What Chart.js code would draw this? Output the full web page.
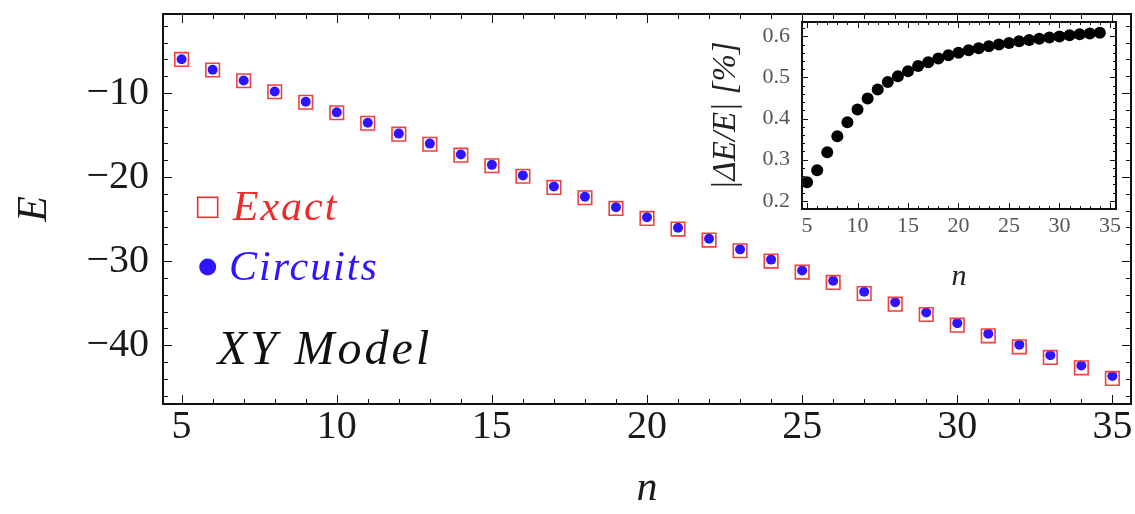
<!DOCTYPE html>
<html>
<head>
<meta charset="utf-8">
<script src="https://cdn.jsdelivr.net/npm/chart.js@4.4.1/dist/chart.umd.min.js"></script>
<style>
  html, body { margin: 0; padding: 0; background: #fff; }
  #wrap { position: relative; width: 1135px; height: 514px; }
  #mainChart { position: absolute; left: 0; top: 0; }
  #insetChart { position: absolute; left: 680px; top: 0; }
</style>
</head>
<body>
<div id="wrap">
  <canvas id="mainChart" width="1135" height="514"></canvas>
  <canvas id="insetChart" width="450" height="300"></canvas>
</div>
<script>
// main panel: ground state energy vs chain length
const sizes = [5, 6, 7, 8, 9, 10, 11, 12, 13, 14, 15, 16, 17, 18, 19, 20,
               21, 22, 23, 24, 25, 26, 27, 28, 29, 30, 31, 32, 33, 34, 35];
const exactE = [-6.0, -7.26, -8.54, -9.85, -11.1, -12.35, -13.6, -14.9, -16.1, -17.4,
                -18.65, -19.9, -21.23, -22.46, -23.73, -24.92, -26.19, -27.5, -28.77, -30.0,
                -31.31, -32.54, -33.85, -35.12, -36.35, -37.62, -38.89, -40.2, -41.46, -42.7, -43.96];
const circuitE = [-5.99, -7.24, -8.51, -9.81, -11.05, -12.3, -13.54, -14.83, -16.02, -17.31,
                  -18.55, -19.8, -21.12, -22.34, -23.6, -24.78, -26.04, -27.34, -28.6, -29.82,
                  -31.12, -32.34, -33.64, -34.9, -36.12, -37.38, -38.64, -39.94, -41.19, -42.42, -43.67];
const xTicks = [5, 10, 15, 20, 25, 30, 35];
const yTicks = [-40, -30, -20, -10];

// inset: relative error in percent
const insetN = [5, 6, 7, 8, 9, 10, 11, 12, 13, 14, 15, 16, 17, 18, 19, 20,
                21, 22, 23, 24, 25, 26, 27, 28, 29, 30, 31, 32, 33, 34];
const relErr = [0.245, 0.274, 0.318, 0.357, 0.391, 0.422, 0.449, 0.471, 0.489, 0.503,
                0.515, 0.528, 0.537, 0.546, 0.554, 0.56, 0.566, 0.571, 0.576, 0.58,
                0.584, 0.588, 0.591, 0.594, 0.597, 0.6, 0.603, 0.605, 0.607, 0.609];
const insetXTicks = [5, 10, 15, 20, 25, 30, 35];
const insetYTicks = [0.2, 0.3, 0.4, 0.5, 0.6];

const SERIF = "'Liberation Serif', 'DejaVu Serif', serif";

// frame with inward ticks on all four sides
const frameTicks = {
  id: 'frameTicks',
  afterDatasetsDraw(chart, args, o) {
    const { ctx, chartArea: a, scales: { x, y } } = chart;
    const near = (arr, v) => arr.some(m => Math.abs(m - v) < 1e-6);
    ctx.save();
    ctx.strokeStyle = '#111';
    ctx.lineWidth = 1;
    ctx.beginPath();
    const x0 = Math.ceil(x.min / o.xStep - 1e-9);
    for (let i = x0; i * o.xStep <= x.max + 1e-9; i++) {
      const v = +(i * o.xStep).toFixed(6);
      const len = near(o.xMajor, v) ? o.major : o.minor;
      const px = Math.round(x.getPixelForValue(v)) + 0.5;
      ctx.moveTo(px, a.bottom); ctx.lineTo(px, a.bottom - len);
      ctx.moveTo(px, a.top); ctx.lineTo(px, a.top + len);
    }
    const y0 = Math.ceil(y.min / o.yStep - 1e-9);
    for (let i = y0; i * o.yStep <= y.max + 1e-9; i++) {
      const v = +(i * o.yStep).toFixed(6);
      const len = near(o.yMajor, v) ? o.major : o.minor;
      const py = Math.round(y.getPixelForValue(v)) + 0.5;
      ctx.moveTo(a.left, py); ctx.lineTo(a.left + len, py);
      ctx.moveTo(a.right, py); ctx.lineTo(a.right - len, py);
    }
    ctx.stroke();
    ctx.lineWidth = o.frame;
    ctx.strokeRect(a.left, a.top, a.right - a.left, a.bottom - a.top);
    ctx.restore();
  }
};

// in-plot legend and model label, anchored in data coordinates
const notes = {
  id: 'notes',
  afterDraw(chart) {
    const { ctx, scales: { x, y } } = chart;
    ctx.save();
    ctx.textBaseline = 'alphabetic';
    // Exact
    let cx = x.getPixelForValue(5.84), cy = y.getPixelForValue(-23.6);
    ctx.strokeStyle = '#ee2a2a';
    ctx.lineWidth = 1.6;
    ctx.strokeRect(cx - 10, cy - 10, 20, 20);
    ctx.fillStyle = '#ee2a2a';
    ctx.font = 'italic 42px ' + SERIF;
    ctx.letterSpacing = '2px';
    ctx.fillText('Exact', x.getPixelForValue(6.65), cy + 13);
    // Circuits
    cy = y.getPixelForValue(-30.7);
    ctx.fillStyle = '#2f14ff';
    ctx.beginPath();
    ctx.arc(cx, cy, 8.5, 0, Math.PI * 2);
    ctx.fill();
    ctx.fillText('Circuits', x.getPixelForValue(6.53), cy + 13);
    // model label
    ctx.fillStyle = '#111';
    ctx.font = 'italic 48px ' + SERIF;
    ctx.letterSpacing = '3px';
    ctx.fillText('XY Model', x.getPixelForValue(6.16), y.getPixelForValue(-40.5) + 15);
    ctx.restore();
  }
};

const fixedTicks = vals => s => { s.ticks = vals.map(v => ({ value: v })); };
const minus = v => (v < 0 ? '\u2212' + Math.abs(v) : String(v));
const fitH = h => s => { s.height = h; s.paddingLeft = 0; s.paddingRight = 0; };
const fitW = w => s => { s.width = w; s.paddingTop = 0; s.paddingBottom = 0; };

new Chart(document.getElementById('mainChart'), {
  type: 'scatter',
  data: {
    datasets: [
      {
        label: 'Exact',
        data: sizes.map((n, i) => ({ x: n, y: exactE[i] })),
        pointStyle: 'rect',
        radius: 9.6,
        borderColor: '#f04040',
        borderWidth: 1.6,
        backgroundColor: 'rgba(255,255,255,0)',
        clip: false
      },
      {
        label: 'Circuits',
        data: sizes.map((n, i) => ({ x: n, y: circuitE[i] })),
        pointStyle: 'circle',
        radius: 5,
        borderWidth: 0,
        backgroundColor: '#2f14ff',
        clip: false
      }
    ]
  },
  options: {
    responsive: false,
    animation: false,
    events: [],
    layout: { autoPadding: false, padding: { top: 14, right: 4, left: 0, bottom: 0 } },
    plugins: {
      legend: { display: false },
      tooltip: { enabled: false },
      frameTicks: { xStep: 1, yStep: 2, xMajor: xTicks, yMajor: yTicks, major: 9, minor: 5, frame: 2 }
    },
    scales: {
      x: {
        type: 'linear', min: 4.4, max: 35.6,
        grid: { display: false }, border: { display: false },
        afterBuildTicks: fixedTicks(xTicks),
        afterFit: fitH(110),
        ticks: { font: { family: SERIF, size: 40 }, color: '#1a1a1a', padding: -9, maxRotation: 0, autoSkip: false },
        title: { display: true, text: 'n', color: '#1a1a1a',
                 font: { family: SERIF, size: 42, style: 'italic' }, padding: { top: 0, bottom: 0 } }
      },
      y: {
        type: 'linear', min: -47, max: -0.6,
        grid: { display: false }, border: { display: false },
        afterBuildTicks: fixedTicks(yTicks),
        afterFit: fitW(163),
        ticks: { font: { family: SERIF, size: 40 }, color: '#1a1a1a', padding: 6, callback: minus },
        title: { display: true, text: 'E', color: '#1a1a1a',
                 font: { family: SERIF, size: 42, style: 'italic' }, padding: { top: 10, bottom: 0 } }
      }
    }
  },
  plugins: [frameTicks, notes]
});

new Chart(document.getElementById('insetChart'), {
  type: 'scatter',
  data: {
    datasets: [{
      label: '|ΔE/E| [%]',
      data: insetN.map((n, i) => ({ x: n, y: relErr[i] })),
      pointStyle: 'circle',
      radius: 6,
      borderWidth: 0,
      backgroundColor: '#000',
      clip: false
    }]
  },
  options: {
    responsive: false,
    animation: false,
    events: [],
    layout: { autoPadding: false, padding: { top: 22, right: 14, left: 0, bottom: 0 } },
    plugins: {
      legend: { display: false },
      tooltip: { enabled: false },
      frameTicks: { xStep: 1, yStep: 0.02, xMajor: insetXTicks, yMajor: insetYTicks, major: 6, minor: 3, frame: 2 }
    },
    scales: {
      x: {
        type: 'linear', min: 4.5, max: 35.6,
        grid: { display: false }, border: { display: false },
        afterBuildTicks: fixedTicks(insetXTicks),
        afterFit: fitH(91),
        ticks: { font: { family: SERIF, size: 22 }, color: '#555', padding: -4, maxRotation: 0, autoSkip: false },
        title: { display: true, text: 'n', color: '#222',
                 font: { family: SERIF, size: 30, style: 'italic' }, padding: { top: 0, bottom: 5 } }
      },
      y: {
        type: 'linear', min: 0.18, max: 0.635,
        grid: { display: false }, border: { display: false },
        afterBuildTicks: fixedTicks(insetYTicks),
        afterFit: fitW(122),
        ticks: { font: { family: SERIF, size: 22 }, color: '#555', padding: 4, callback: v => v.toFixed(1) },
        title: { display: true, text: '|ΔE/E| [%]', color: '#222',
                 font: { family: SERIF, size: 33, style: 'italic' }, padding: { top: 27, bottom: 0 } }
      }
    }
  },
  plugins: [frameTicks]
});
</script>
</body>
</html>
